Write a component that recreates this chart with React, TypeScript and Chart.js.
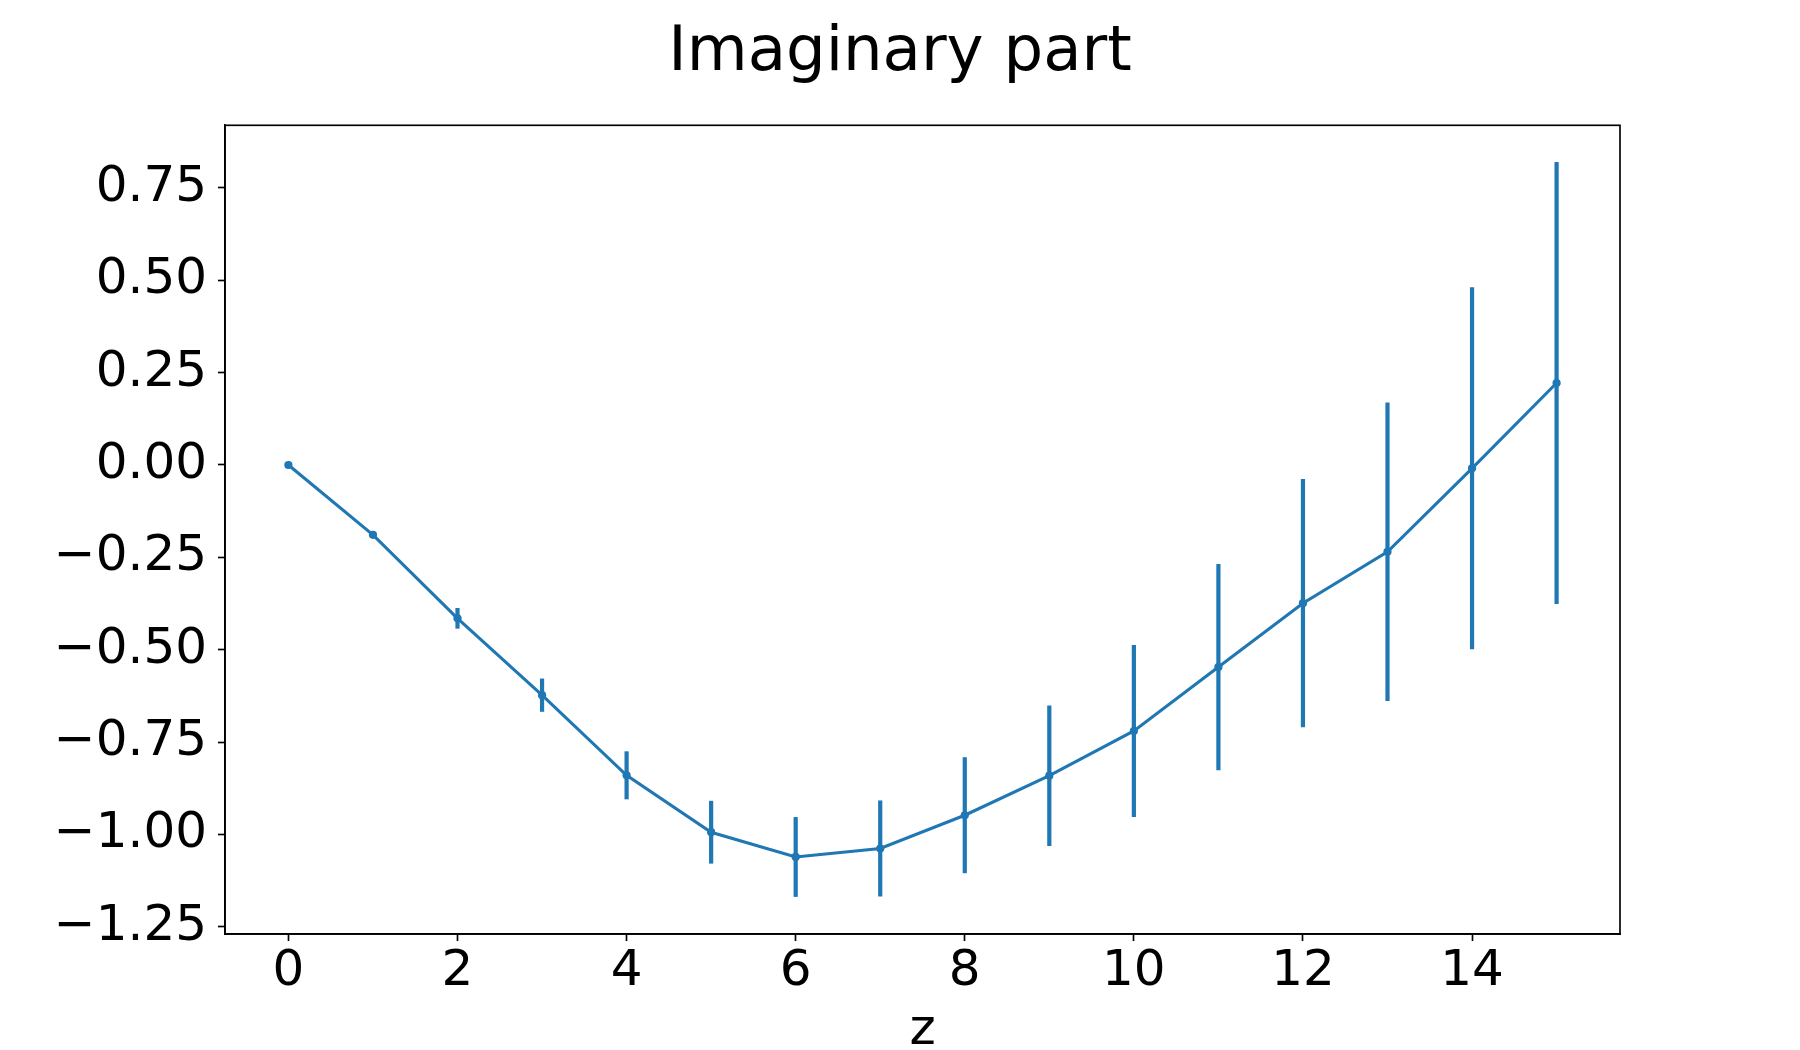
import React, { useEffect, useRef } from "react";
import { Chart, registerables } from "chart.js";

Chart.register(...registerables);

// ---- Data ----
const zValues = [0, 1, 2, 3, 4, 5, 6, 7, 8, 9, 10, 11, 12, 13, 14, 15];
const imagValues = [
  0.0, -0.189, -0.415, -0.623, -0.84, -0.994, -1.061, -1.038, -0.948, -0.841,
  -0.72, -0.547, -0.374, -0.235, -0.009, 0.222,
];
const imagErrors = [
  0.0, 0.006, 0.028, 0.045, 0.065, 0.085, 0.108, 0.13, 0.157, 0.19, 0.233,
  0.279, 0.336, 0.404, 0.49, 0.598,
];
const xTickValues = [0, 2, 4, 6, 8, 10, 12, 14];
const yTickValues = [-1.25, -1.0, -0.75, -0.5, -0.25, 0.0, 0.25, 0.5, 0.75];
const xLimits = [-0.75, 15.75];
const yLimits = [-1.2695, 0.9195];
const titleText = "Imaginary part";
const xAxisLabel = "z";

const BLUE = "#1f77b4";
const FONT = "'DejaVu Sans', sans-serif";

function formatY(v: number): string {
  const s = Math.abs(v).toFixed(2);
  return v < -1e-9 ? "\u2212" + s : s;
}

const errorBarPlugin = {
  id: "errorBars",
  beforeDatasetsDraw(chart: any) {
    const xs = chart.scales.x;
    const ys = chart.scales.y;
    const ctx = chart.ctx;
    ctx.save();
    ctx.strokeStyle = BLUE;
    ctx.lineWidth = 4.2;
    ctx.lineCap = "butt";
    for (let i = 0; i < zValues.length; i++) {
      const e = imagErrors[i];
      if (e <= 0) continue;
      const px = xs.getPixelForValue(zValues[i]);
      const y1 = ys.getPixelForValue(imagValues[i] + e);
      const y2 = ys.getPixelForValue(imagValues[i] - e);
      ctx.beginPath();
      ctx.moveTo(px, y1);
      ctx.lineTo(px, y2);
      ctx.stroke();
    }
    ctx.restore();
  },
};

const framePlugin = {
  id: "frame",
  afterDraw(chart: any) {
    const { ctx, chartArea } = chart;
    ctx.save();
    ctx.strokeStyle = "#000";
    ctx.lineWidth = 1.67;
    ctx.strokeRect(
      chartArea.left,
      chartArea.top,
      chartArea.right - chartArea.left,
      chartArea.bottom - chartArea.top
    );
    ctx.restore();
  },
};

const titlePlugin = {
  id: "suptitle",
  afterDraw(chart: any) {
    const ctx = chart.ctx;
    ctx.save();
    ctx.fillStyle = "#000";
    ctx.font = `62.5px ${FONT}`;
    ctx.textAlign = "center";
    ctx.textBaseline = "alphabetic";
    ctx.fillText(titleText, chart.width / 2, 70);
    ctx.restore();
  },
};

export default function App() {
  const canvasRef = useRef<HTMLCanvasElement | null>(null);

  useEffect(() => {
    document.body.style.margin = "0";
    const canvas = canvasRef.current;
    if (!canvas) return;
    const chart = new Chart(canvas, {
      type: "scatter",
      data: {
        datasets: [
          {
            label: "Imaginary part",
            data: zValues.map((z, i) => ({ x: z, y: imagValues[i] })),
            showLine: true,
            borderColor: BLUE,
            backgroundColor: BLUE,
            borderWidth: 3.1,
            pointRadius: 4.1,
            pointBorderWidth: 0,
            pointBackgroundColor: BLUE,
            tension: 0,
          },
        ],
      },
      options: {
        animation: false,
        responsive: false,
        devicePixelRatio: 1,
        layout: { padding: { top: 125.3, right: 180, left: 0, bottom: 0 } },
        plugins: {
          legend: { display: false },
          tooltip: { enabled: false },
          title: { display: false },
        },
        scales: {
          x: {
            type: "linear",
            position: "bottom",
            min: xLimits[0],
            max: xLimits[1],
            afterBuildTicks: (scale: any) => {
              scale.ticks = xTickValues.map((v) => ({ value: v }));
            },
            afterFit: (scale: any) => {
              scale.height = 1050 - 934;
            },
            ticks: {
              font: { family: FONT, size: 50 },
              color: "#000",
              padding: 1,
              maxRotation: 0,
              minRotation: 0,
              autoSkip: false,
              callback: (v: any) => String(v),
            },
            grid: {
              display: true,
              drawOnChartArea: false,
              drawTicks: true,
              tickLength: 7,
              tickColor: "#000",
              tickWidth: 1.67,
            },
            border: { display: true, color: "#000", width: 1.67 },
            title: {
              display: true,
              text: xAxisLabel,
              color: "#000",
              font: { family: FONT, size: 50, lineHeight: 0.8 },
              padding: { top: 0, bottom: -1 },
            },
          },
          y: {
            type: "linear",
            position: "left",
            min: yLimits[0],
            max: yLimits[1],
            afterBuildTicks: (scale: any) => {
              scale.ticks = yTickValues.map((v) => ({ value: v }));
            },
            afterFit: (scale: any) => {
              scale.width = 225;
            },
            ticks: {
              font: { family: FONT, size: 50 },
              color: "#000",
              padding: 11,
              autoSkip: false,
              callback: (v: any) => formatY(Number(v)),
            },
            grid: {
              display: true,
              drawOnChartArea: false,
              drawTicks: true,
              tickLength: 7,
              tickColor: "#000",
              tickWidth: 1.67,
            },
            border: { display: true, color: "#000", width: 1.67 },
          },
        },
      },
      plugins: [errorBarPlugin, framePlugin, titlePlugin],
    } as any);
    return () => chart.destroy();
  }, []);

  return (
    <canvas
      ref={canvasRef}
      width={1800}
      height={1050}
      style={{ display: "block", width: 1800, height: 1050 }}
    />
  );
}
